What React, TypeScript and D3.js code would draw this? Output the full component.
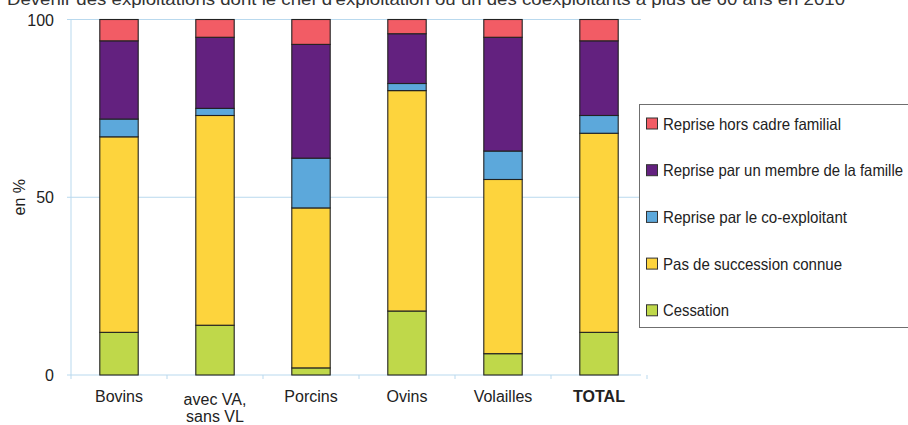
import React from "react";
import * as d3 from "d3";

const categories = ["Bovins", "avec VA,\nsans VL", "Porcins", "Ovins", "Volailles", "TOTAL"];
const seriesNames = [
  "Cessation",
  "Pas de succession connue",
  "Reprise par le co-exploitant",
  "Reprise par un membre de la famille",
  "Reprise hors cadre familial",
];
const cessation = [12, 14, 2, 18, 6, 12];
const pasSuccession = [55, 59, 45, 62, 49, 56];
const coExploitant = [5, 2, 14, 2, 8, 5];
const membreFamille = [22, 20, 32, 14, 32, 21];
const horsCadre = [6, 5, 7, 4, 5, 6];
const yTicks = [0, 50, 100];
const title = "Devenir des exploitations dont le chef d'exploitation ou un des coexploitants a plus de 60 ans en 2010";

const colors = ["#bfd84a", "#fdd43d", "#5ca8db", "#63217f", "#f25c65"];
// legend label widths matching the condensed face of the reference
const legendWidths = [66, 179, 184, 240, 178];
const FONT = "'Liberation Sans', Arial, sans-serif";

export default function App() {
  const W = 908, H = 425;
  const left = 71, right = 647, top = 19.5, bottom = 375;
  const x = d3.scaleBand<string>().domain(categories).range([left, right]).paddingInner(0.6).paddingOuter(0.3);
  const xb = d3.scaleBand<string>().domain(categories).range([left, right]);
  const y = d3.scaleLinear().domain([0, 100]).range([bottom, top]);

  const rows = categories.map((c, i) => ({
    cat: c,
    s0: cessation[i], s1: pasSuccession[i], s2: coExploitant[i], s3: membreFamille[i], s4: horsCadre[i],
  }));
  const stack = d3.stack<any>().keys(["s0", "s1", "s2", "s3", "s4"])(rows);

  const legendOrder = [4, 3, 2, 1, 0];
  const grid = "#b9d9ee";

  return (
    <svg width={W} height={H} style={{ position: "absolute", left: 0, top: 0, background: "#fff" }} fontFamily={FONT}>
      <text x={7} y={5} fontSize={16} fill="#333" textLength={838} lengthAdjust="spacingAndGlyphs">{title}</text>
      {yTicks.map((t) => (
        <line key={t} x1={left - 4} x2={t === 50 ? 643 : right - 6} y1={y(t)} y2={y(t)} stroke={grid} strokeWidth={1} />
      ))}
      <line x1={left} x2={left} y1={top} y2={bottom + 4} stroke={grid} strokeWidth={1} />
      {categories.map((c) => (
        <line key={c} x1={(xb(c) as number) + xb.bandwidth()} x2={(xb(c) as number) + xb.bandwidth()} y1={bottom} y2={bottom + 4} stroke={grid} />
      ))}
      {yTicks.map((t) => (
        <text key={t} x={54} y={y(t) + 6} fontSize={16} textAnchor="end" fill="#222">{t}</text>
      ))}
      <text transform={`translate(25,${y(50)}) rotate(-90)`} textAnchor="middle" fontSize={16} fill="#222">en %</text>
      {stack.map((layer, si) => (
        <g key={si}>
          {layer.map((d, i) => (
            <rect key={i} x={x(categories[i])} width={x.bandwidth()} y={y(d[1])} height={y(d[0]) - y(d[1])}
              fill={colors[si]} stroke="#222" strokeWidth={1.1} />
          ))}
        </g>
      ))}
      {categories.map((c) => {
        const cx = (xb(c) as number) + xb.bandwidth() / 2;
        const lines = c.split("\n");
        return (
          <text key={c} x={cx} textAnchor="middle" fontSize={16} fill="#222" fontWeight={c === "TOTAL" ? "bold" : "normal"}>
            {lines.map((l, k) => (
              <tspan key={k} x={cx} y={lines.length > 1 ? 405 + k * 17 : 402}>{l}</tspan>
            ))}
          </text>
        );
      })}
      <rect x={639.5} y={104.5} width={300} height={223} fill="#fff" stroke="#6f6f6f" strokeWidth={1} />
      {legendOrder.map((si, k) => {
        const cy = 123.5 + k * 46.7;
        return (
          <g key={si}>
            <rect x={646.5} y={cy - 5.5} width={11} height={11} fill={colors[si]} stroke="#333" strokeWidth={1} />
            <text x={663} y={cy + 6} fontSize={16.5} fill="#222" textLength={legendWidths[si]} lengthAdjust="spacingAndGlyphs">{seriesNames[si]}</text>
          </g>
        );
      })}
    </svg>
  );
}
